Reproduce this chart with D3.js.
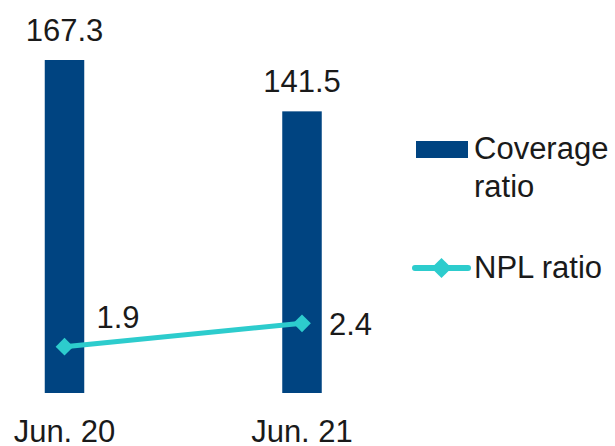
<!DOCTYPE html>
<html>
<head>
<meta charset="utf-8">
<script src="https://cdn.jsdelivr.net/npm/d3@7"></script>
<style>
  html, body { margin: 0; padding: 0; background: #fff; }
  #plot { width: 615px; height: 446px; }
  text { font-family: "Liberation Sans", Arial, sans-serif; fill: #1a1a1a; }
</style>
</head>
<body>
<div id="plot"></div>
<script>
// Data
var periods = ["Jun. 20", "Jun. 21"];
var coverage = [167.3, 141.5];
var npl = [1.9, 2.4];

var w = 615, h = 446;
var navy = "#004481";
var teal = "#2dcccd";
var fontSize = 31;

var svg = d3.select("#plot").append("svg")
    .attr("width", w)
    .attr("height", h);

// Scales
var xScale = d3.scalePoint()
    .domain(periods)
    .range([64.5, 302]);
var barW = 39.5;

var yScale = d3.scaleLinear()
    .domain([0, 167.3])
    .range([393, 60]);

// secondary axis for the NPL line
var y2Scale = d3.scaleLinear()
    .domain([0, 2.4])
    .range([435.6, 323.3]);

// Bars
svg.selectAll(".bar")
    .data(coverage)
    .enter().append("rect")
    .attr("class", "bar")
    .attr("x", function(d, i) { return xScale(periods[i]) - barW/2; })
    .attr("y", function(d) { return yScale(d); })
    .attr("width", barW)
    .attr("height", function(d) { return yScale(0) - yScale(d); })
    .attr("fill", navy);

svg.selectAll(".barLabel")
    .data(coverage)
    .enter().append("text")
    .attr("class", "barLabel")
    .attr("x", function(d, i) { return xScale(periods[i]); })
    .attr("y", function(d) { return yScale(d) - 19; })
    .attr("text-anchor", "middle")
    .style("font-size", fontSize + "px")
    .text(function(d) { return d.toFixed(1); });

// NPL line
var line = d3.line()
    .x(function(d, i) { return xScale(periods[i]); })
    .y(function(d) { return y2Scale(d); });

svg.append("path")
    .datum(npl)
    .attr("d", line)
    .attr("fill", "none")
    .attr("stroke", teal)
    .attr("stroke-width", 5)
    .attr("stroke-linecap", "round");

var diamond = d3.symbol().type(d3.symbolDiamond2).size(200);

svg.selectAll(".pt")
    .data(npl)
    .enter().append("path")
    .attr("class", "pt")
    .attr("d", diamond)
    .attr("fill", teal)
    .attr("transform", function(d, i) { return "translate(" + xScale(periods[i]) + "," + y2Scale(d) + ")"; });

svg.selectAll(".ptLabel")
    .data(npl)
    .enter().append("text")
    .attr("class", "ptLabel")
    .attr("x", function(d, i) { return xScale(periods[i]) + (i === 0 ? 32 : 27); })
    .attr("y", function(d, i) { return y2Scale(d) + (i === 0 ? -19 : 12); })
    .style("font-size", fontSize + "px")
    .text(function(d) { return d.toFixed(1); });

// Category labels (sit right at the bottom edge)
svg.selectAll(".xLabel")
    .data(periods)
    .enter().append("text")
    .attr("class", "xLabel")
    .attr("x", function(d) { return xScale(d); })
    .attr("y", 442)
    .attr("text-anchor", "middle")
    .style("font-size", fontSize + "px")
    .text(function(d) { return d; });

// Legend
var legend = svg.append("g");

legend.append("rect")
    .attr("x", 416)
    .attr("y", 141)
    .attr("width", 52)
    .attr("height", 17)
    .attr("fill", navy);

legend.append("text")
    .attr("x", 474)
    .attr("y", 159)
    .style("font-size", fontSize + "px")
    .text("Coverage");

legend.append("text")
    .attr("x", 474)
    .attr("y", 197)
    .style("font-size", fontSize + "px")
    .text("ratio");

legend.append("line")
    .attr("x1", 415).attr("x2", 468)
    .attr("y1", 268).attr("y2", 268)
    .attr("stroke", teal)
    .attr("stroke-width", 6)
    .attr("stroke-linecap", "round");

legend.append("path")
    .attr("d", d3.symbol().type(d3.symbolDiamond2).size(260))
    .attr("fill", teal)
    .attr("transform", "translate(441.5,268)");

legend.append("text")
    .attr("x", 474)
    .attr("y", 278)
    .style("font-size", fontSize + "px")
    .text("NPL ratio");
</script>
</body>
</html>
